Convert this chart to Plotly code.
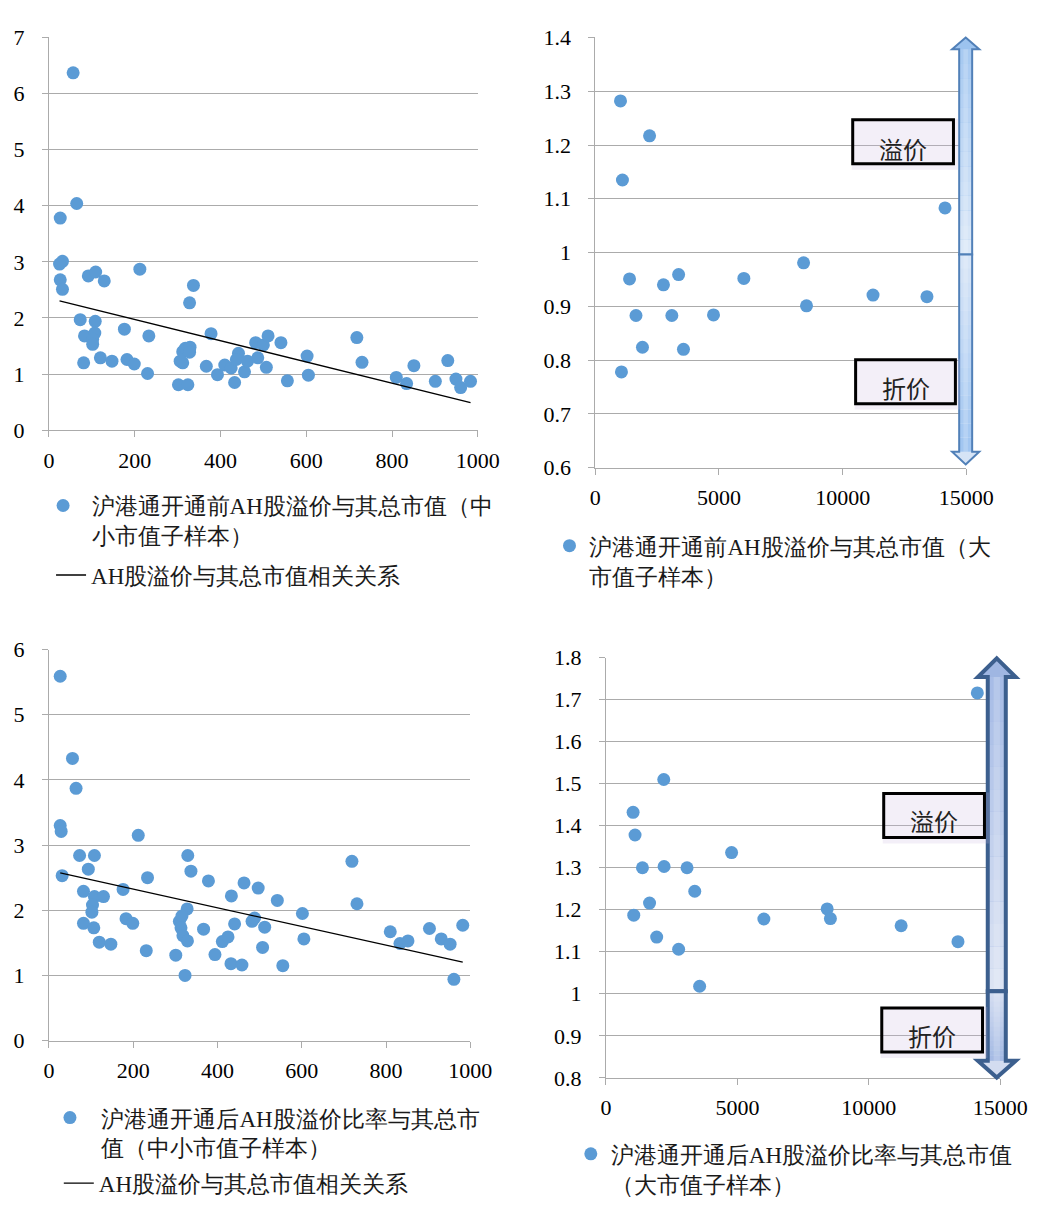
import numpy as np
import plotly.graph_objects as go

W, H = 1057, 1210  # canvas size in pixels (used to convert pixel positions to paper fractions)

# ---------------- data ----------------
# Panel 1: before Shanghai-HK Connect, small/mid caps
pre_small_cap = [56.5, 64.8, 26.4, 31.6, 24.8, 26.4, 31.6, 91.9, 109, 129, 212, 337, 328,
                 73, 108, 83, 107, 102, 102, 81, 120, 147, 176, 182, 199, 233, 230,
                 302, 324, 306, 312, 312, 318, 329, 328, 378, 367, 393, 410, 425, 433,
                 442, 437, 456, 463, 482, 500, 511, 487, 507, 541, 556, 602, 605, 718,
                 730, 810, 834, 851, 901, 930, 949, 960, 983]
pre_small_prem = [6.37, 4.04, 3.78, 3.01, 2.96, 2.68, 2.51, 2.75, 2.82, 2.66, 2.87, 2.58, 2.27,
                  1.97, 1.94, 1.68, 1.73, 1.62, 1.53, 1.20, 1.29, 1.23, 1.80, 1.26, 1.18, 1.68, 1.01,
                  0.81, 0.81, 1.23, 1.20, 1.40, 1.46, 1.48, 1.39, 1.72, 1.14, 0.99, 1.16, 1.11, 0.85,
                  1.37, 1.26, 1.04, 1.23, 1.56, 1.52, 1.68, 1.29, 1.12, 1.56, 0.88, 1.32, 0.98, 1.65,
                  1.21, 0.94, 0.83, 1.15, 0.87, 1.24, 0.91, 0.76, 0.87]
pre_trend_slope = -0.00189
pre_trend_intercept = 2.35

# Panel 2: before, large caps
pre_large_cap = [1018, 2193, 1097, 14138, 8420, 1384, 2755, 3368, 6005, 1645, 3094, 4778,
                 8538, 11227, 13407, 1906, 3564, 1057]
pre_large_prem = [1.282, 1.217, 1.135, 1.083, 0.981, 0.951, 0.940, 0.959, 0.952, 0.883, 0.883,
                  0.884, 0.901, 0.921, 0.918, 0.824, 0.820, 0.778]

# Panel 3: after, small/mid caps
post_small_cap = [26.8, 55.9, 64.4, 26.8, 29.1, 31.4, 72.8, 108, 93.5, 212, 234, 82, 108, 129.5,
                  103.4, 102, 82, 106.5, 119.5, 147, 176, 183, 199, 231, 301, 323, 329.5, 337,
                  328, 309.6, 315.7, 313.4, 318, 328.7, 378.5, 367, 394, 411.5, 425, 433, 440.6,
                  432, 458, 463, 496.6, 482, 488, 512, 507, 542, 555, 601.5, 605, 719, 731, 810,
                  833, 852, 903, 931, 952, 961, 982]
post_small_prem = [5.59, 4.33, 3.87, 3.30, 3.21, 2.53, 2.84, 2.84, 2.63, 3.15, 2.50, 2.29, 2.21, 2.21,
                   2.08, 1.97, 1.80, 1.73, 1.51, 1.48, 2.32, 1.87, 1.80, 1.38, 1.31, 1.00, 2.84, 2.60,
                   2.02, 1.83, 1.91, 1.73, 1.61, 1.53, 2.45, 1.71, 1.32, 1.52, 1.59, 2.22, 1.79,
                   1.18, 1.16, 2.42, 2.34, 1.83, 1.88, 1.74, 1.43, 2.15, 1.15, 1.95, 1.56, 2.75, 2.10, 1.67,
                   1.49, 1.53, 1.72, 1.56, 1.48, 0.94, 1.77]
post_trend_slope = -0.00143
post_trend_intercept = 2.61

# Panel 4: after, large caps
post_large_cap = [14128, 2199, 1032, 1106, 1388, 2211, 3084, 4779, 3378, 1658, 1057, 1929, 2764,
                  3563, 6007, 8415, 8538, 11229, 13391]
post_large_prem = [1.716, 1.510, 1.432, 1.378, 1.300, 1.303, 1.300, 1.336, 1.244, 1.216, 1.187,
                   1.135, 1.106, 1.018, 1.178, 1.202, 1.179, 1.162, 1.124]

# tick values
small_x_ticks = [0, 200, 400, 600, 800, 1000]
large_x_ticks = [0, 5000, 10000, 15000]

# texts
name_pre_small = "沪港通开通前AH股溢价与其总市值（中<br>小市值子样本）"
name_trend = "AH股溢价与其总市值相关关系"
name_pre_large = "沪港通开通前AH股溢价与其总市值（大<br>市值子样本）"
name_post_small = "沪港通开通后AH股溢价比率与其总市<br>值（中小市值子样本）"
name_post_large = "沪港通开通后AH股溢价比率与其总市值<br>（大市值子样本）"
label_premium = "溢价"
label_discount = "折价"

# ---------------- styling ----------------
DOT = "#5b9bd5"
GRID = "#ababab"
TICKFONT = dict(family="Liberation Serif", size=22, color="#000000")
LEGFONT = dict(family="Liberation Serif", size=23, color="#1a1a1a")


def fx(px):
    return px / W


def fy(py):
    return 1 - py / H


fig = go.Figure()


def scatter(xs, ys, axis, name, legend):
    fig.add_trace(go.Scatter(
        x=xs, y=ys, mode="markers", name=name, legend=legend,
        xaxis="x" + axis, yaxis="y" + axis,
        marker=dict(color=DOT, size=13, line=dict(width=0)),
        hoverinfo="x+y"))


def trend(xs, slope, intercept, axis, legend):
    tx = np.array([min(xs), max(xs)], dtype=float)
    ty = intercept + slope * tx
    fig.add_trace(go.Scatter(
        x=tx, y=ty, mode="lines", name=name_trend, legend=legend,
        xaxis="x" + axis, yaxis="y" + axis,
        line=dict(color="#000000", width=1.3), hoverinfo="skip"))


scatter(pre_small_cap, pre_small_prem, "", name_pre_small, "legend")
trend(pre_small_cap, pre_trend_slope, pre_trend_intercept, "", "legend2")
scatter(pre_large_cap, pre_large_prem, "2", name_pre_large, "legend3")
scatter(post_small_cap, post_small_prem, "3", name_post_small, "legend4")
trend(post_small_cap, post_trend_slope, post_trend_intercept, "3", "legend5")
scatter(post_large_cap, post_large_prem, "4", name_post_large, "legend6")


def xaxis(left, right, rng, ticks, anchor):
    return dict(domain=[fx(left), fx(right)], range=rng, tickvals=ticks,
                tickformat="d", exponentformat="none",
                ticks="outside", ticklen=6, tickcolor=GRID, tickwidth=1,
                showline=True, linecolor=GRID, linewidth=1,
                showgrid=False, zeroline=False, tickfont=TICKFONT,
                anchor=anchor, fixedrange=True, ticklabelstandoff=4)


def yaxis(top, bottom, rng, dtick, anchor):
    return dict(domain=[fy(bottom), fy(top)], range=rng, dtick=dtick, tick0=0,
                ticks="outside", ticklen=6, tickcolor=GRID, tickwidth=1,
                showline=True, linecolor=GRID, linewidth=1,
                showgrid=True, gridcolor=GRID, gridwidth=1, zeroline=False,
                tickfont=TICKFONT, anchor=anchor, fixedrange=True,
                ticklabelstandoff=13)


def legend(x, y, itemwidth=30):
    return dict(x=fx(x), y=fy(y), xanchor="left", yanchor="top",
                xref="paper", yref="paper", bgcolor="rgba(0,0,0,0)",
                font=LEGFONT, itemwidth=itemwidth, valign="top",
                tracegroupgap=0, itemclick=False, itemdoubleclick=False)


# ---------------- decorations (arrows, labels) ----------------
shapes = []
annotations = []


def hexmix(c1, c2, t):
    a = [int(c1[i:i + 2], 16) for i in (1, 3, 5)]
    b = [int(c2[i:i + 2], 16) for i in (1, 3, 5)]
    m = [round(a[k] + (b[k] - a[k]) * t) for k in range(3)]
    return "#%02x%02x%02x" % tuple(m)


def poly(pts):
    return "M " + " L ".join(f"{fx(x):.5f},{fy(y):.5f}" for x, y in pts) + " Z"


def arrow(cx, tip, base, head_len, hw, sw, up, c_head, c_near, c_far, edge, ew):
    hb = tip + head_len if up else tip - head_len
    pts = [(cx, tip), (cx + hw, hb), (cx + sw, hb), (cx + sw, base),
           (cx - sw, base), (cx - sw, hb), (cx - hw, hb)]
    shapes.append(dict(type="path", xref="paper", yref="paper", path=poly(pts),
                       fillcolor=c_head, line=dict(width=0), layer="above"))
    n = 14
    for i in range(n):
        y0 = hb + (base - hb) * i / n
        y1 = hb + (base - hb) * (i + 1) / n
        col = hexmix(c_near, c_far, (i + 0.5) / n)
        shapes.append(dict(type="rect", xref="paper", yref="paper",
                           x0=fx(cx - sw), x1=fx(cx + sw), y0=fy(y0), y1=fy(y1),
                           fillcolor=col, line=dict(width=0), layer="above"))
    shapes.append(dict(type="rect", xref="paper", yref="paper",
                       x0=fx(cx - sw * 0.35), x1=fx(cx + sw * 0.35), y0=fy(hb), y1=fy(base),
                       fillcolor="rgba(255,255,255,0.18)", line=dict(width=0), layer="above"))
    shapes.append(dict(type="path", xref="paper", yref="paper", path=poly(pts),
                       fillcolor="rgba(0,0,0,0)", line=dict(color=edge, width=ew), layer="above"))


def label_box(x0, x1, y0, y1, text, ty):
    shapes.append(dict(type="rect", xref="paper", yref="paper",
                       x0=fx(x0 - 1), x1=fx(x1 + 5), y0=fy(y0 - 1), y1=fy(y1 + 6),
                       fillcolor="rgba(200,180,225,0.22)", line=dict(width=0), layer="above"))
    shapes.append(dict(type="rect", xref="paper", yref="paper",
                       x0=fx(x0), x1=fx(x1), y0=fy(y0), y1=fy(y1),
                       fillcolor="rgba(0,0,0,0)", line=dict(color="#000000", width=3),
                       layer="above"))
    annotations.append(dict(xref="paper", yref="paper", x=fx((x0 + x1) / 2), y=fy(ty),
                            text=text, showarrow=False, xanchor="center", yanchor="middle",
                            font=dict(family="Noto Sans CJK SC", size=24, color="#222222")))


# panel 2 arrows
arrow(990.6, 26, 247.5, 12, 14, 6.7, True, "#9cc3ef", "#a6c9f1", "#dde9f8", "#5180b8", 2)
arrow(990.6, 462, 247.5, 13, 14, 6.7, False, "#d6e4f6", "#a0c5f1", "#d9e6f7", "#5180b8", 2)
label_box(874, 978, 110, 155, label_premium, 139)
label_box(877, 980, 355, 400, label_discount, 383)

# panel 4 arrows
arrow(1022.7, 660, 1000, 19, 19.5, 9.3, True, "#9fb6e2", "#a5bbe5", "#dde4f4", "#3c5f8e", 4)
arrow(1022.7, 1088, 1000, 17, 19.5, 9.3, False, "#d3dcf0", "#a3b9e4", "#d5def1", "#3c5f8e", 4)
label_box(906, 1010, 798, 843, label_premium, 826)
label_box(904, 1008, 1017, 1062, label_discount, 1045)

fig.update_layout(
    width=W, height=H, margin=dict(l=0, r=0, t=0, b=0),
    paper_bgcolor="white", plot_bgcolor="white",
    showlegend=True,
    xaxis=xaxis(44.3, 487, [0, 1000], small_x_ticks, "y"),
    yaxis=yaxis(26, 427, [0, 7], 1, "x"),
    xaxis2=xaxis(608.3, 991.3, [0, 15000], large_x_ticks, "y2"),
    yaxis2=yaxis(26, 465.3, [0.6, 1.4], 0.1, "x2"),
    xaxis3=xaxis(44.3, 479.3, [0, 1000], small_x_ticks, "y3"),
    yaxis3=yaxis(651, 1050.3, [0, 6], 1, "x3"),
    xaxis4=xaxis(619.3, 1026.3, [0, 15000], large_x_ticks, "y4"),
    yaxis4=yaxis(659.3, 1088.3, [0.8, 1.8], 0.1, "x4"),
    legend=legend(29.5, 482, 47),
    legend2=legend(46.5, 553, 30),
    legend3=legend(561, 523, 30),
    legend4=legend(33.5, 1107, 53),
    legend5=legend(54.5, 1174, 30),
    legend6=legend(583, 1144, 30),
    shapes=shapes,
    annotations=annotations,
)

page_fix = ("document.documentElement.style.margin='0';"
            "document.body.style.margin='0';"
            "document.body.style.padding='0';"
            "document.documentElement.style.overflow='hidden';"
            "document.body.style.overflow='hidden';")

fig.write_html("out.html", config={"displayModeBar": False}, post_script=page_fix)
